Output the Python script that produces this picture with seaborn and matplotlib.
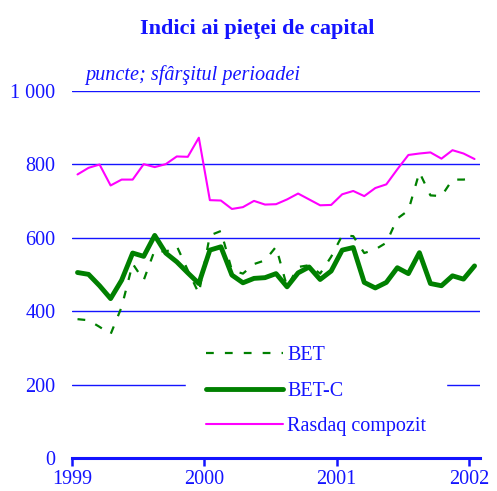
import numpy as np
import pandas as pd
import matplotlib
matplotlib.use("Agg")
import matplotlib.pyplot as plt
import seaborn as sns

sns.set_style("white")
plt.rcParams['font.family'] = ['Liberation Serif', 'DejaVu Serif']

BLUE = '#1414ff'

# monthly values, January 1999 - January 2002 (points, end of period)
bet = [378, 375, 357, 337, 411, 529, 484, 566, 561, 577, 511, 448,
       606, 618, 511, 502, 528, 538, 575, 466, 520, 525, 502, 548,
       606, 604, 558, 568, 586, 652, 674, 778, 715, 713, 758, 758,
       762]
bet_c = [505, 500, 469, 434, 484, 558, 549, 606, 558, 534, 504, 475,
         566, 575, 498, 477, 489, 491, 502, 466, 504, 520, 486, 509,
         566, 573, 478, 463, 478, 518, 502, 559, 475, 469, 496, 487,
         523]
rasdaq = [772, 790, 799, 742, 758, 758, 800, 792, 800, 821, 820, 872,
          702, 701, 678, 683, 700, 690, 691, 704, 720, 704, 688, 689,
          718, 727, 713, 735, 745, 786, 825, 829, 832, 815, 838, 829,
          814]
year_ticks = [1999, 2000, 2001, 2002]
y_ticks = [0, 200, 400, 600, 800, 1000]
y_labels = ['0', '200', '400', '600', '800', '1 000']

# mid-month position in fractional years
t = 1999 + (np.arange(len(bet)) + 0.5) / 12
df = pd.DataFrame({'t': t, 'BET': bet, 'BET-C': bet_c, 'Rasdaq compozit': rasdaq})

fig = plt.figure(figsize=(4.97, 4.91), dpi=100)
ax = fig.add_axes([72 / 497, 1 - 458 / 491, 408 / 497, 367.3 / 491])

for y in y_ticks[1:]:
    ax.axhline(y, color=BLUE, lw=1.0, zorder=0)

sns.lineplot(data=df, x='t', y='BET', ax=ax, color='#008000', lw=1.6,
             label='BET', zorder=3).lines[-1].set_dashes([3.5, 5])
sns.lineplot(data=df, x='t', y='BET-C', ax=ax, color='#008000', lw=3.5,
             label='BET-C', zorder=4)
sns.lineplot(data=df, x='t', y='Rasdaq compozit', ax=ax, color='#ff00ff', lw=1.5,
             label='Rasdaq compozit', zorder=2)

ax.set_xlim(1999, 2002 + 11 / 132.7)
ax.set_ylim(0, 1000)
ax.set_xticks(year_ticks)
ax.set_xticklabels([str(y) for y in year_ticks])
ax.set_yticks(y_ticks)
ax.set_yticklabels(y_labels)
ax.set_xlabel('')
ax.set_ylabel('')

for s in ['top', 'right', 'left']:
    ax.spines[s].set_visible(False)
ax.spines['bottom'].set_color(BLUE)
ax.spines['bottom'].set_linewidth(2.2)
ax.spines['bottom'].set_zorder(6)
ax.xaxis.set_zorder(6)
ax.tick_params(axis='x', colors=BLUE, labelsize=14.5, direction='out',
               bottom=True, length=6, width=1.8, pad=3)
ax.tick_params(axis='y', colors=BLUE, labelsize=14.5, length=0, pad=12)

leg = ax.legend(loc='center', bbox_to_anchor=(0.598, 0.182), frameon=True,
                fontsize=14.5, handlelength=3.85, handletextpad=0.2,
                labelspacing=0.8, borderpad=1.0, fancybox=False)
leg.get_frame().set_facecolor('white')
leg.get_frame().set_edgecolor('white')
leg.get_frame().set_alpha(1)
for txt in leg.get_texts():
    txt.set_color(BLUE)

fig.text(257 / 497, 1 - 29 / 491, 'Indici ai pieţei de capital', color=BLUE,
         fontsize=16, fontweight='bold', ha='center', va='center')
ax.text(85, 1 - 75 / 491, 'puncte; sfârşitul perioadei', color=BLUE,
        fontsize=14.6, style='italic', ha='left', va='center',
        transform=matplotlib.transforms.blended_transform_factory(
            matplotlib.transforms.IdentityTransform(), fig.transFigure))

fig.savefig('out.png', dpi=100)
